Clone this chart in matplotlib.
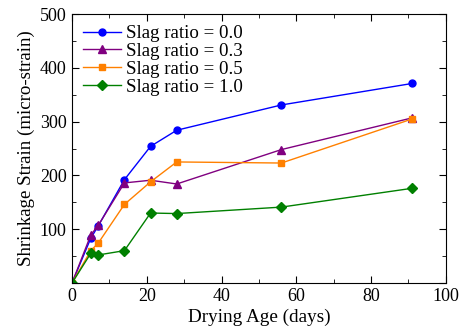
import matplotlib
matplotlib.use("Agg")
import matplotlib.pyplot as plt
from matplotlib.ticker import MultipleLocator

days = [0, 5, 7, 14, 21, 28, 56, 91]
slag_00 = [0, 83, 106, 192, 254, 284, 331, 371]
slag_03 = [0, 89, 107, 186, 191, 184, 248, 307]
slag_05 = [0, 60, 74, 146, 188, 225, 223, 305]
slag_10 = [0, 55, 52, 60, 130, 129, 141, 176]
labels = ["Slag ratio = 0.0", "Slag ratio = 0.3", "Slag ratio = 0.5", "Slag ratio = 1.0"]

plt.rcParams['font.family'] = ['Liberation Serif', 'DejaVu Serif']
plt.rcParams['mathtext.fontset'] = 'stix'

fig = plt.figure(figsize=(4.62, 3.36), dpi=100)
ax = fig.add_axes([0.156, 0.158, 0.809, 0.800])

ax.plot(days, slag_00, color='#0000ff', marker='o', ms=5, lw=1.0, label=labels[0])
ax.plot(days, slag_03, color='#800080', marker='^', ms=5.5, lw=1.0, label=labels[1])
ax.plot(days, slag_05, color='#ff8000', marker='s', ms=5, lw=1.0, label=labels[2])
ax.plot(days, slag_10, color='#008000', marker='D', ms=5, lw=1.0, label=labels[3])

ax.set_xlim(0, 100)
ax.set_ylim(0, 500)
ax.xaxis.set_major_locator(MultipleLocator(20))
ax.xaxis.set_minor_locator(MultipleLocator(10))
ax.yaxis.set_major_locator(MultipleLocator(100))
ax.yaxis.set_minor_locator(MultipleLocator(50))
ax.tick_params(which='both', direction='in', top=True, right=True, labelsize=13)
ax.tick_params(which='major', length=5, pad=4)
ax.tick_params(which='minor', length=3)
ax.set_yticks([0, 100, 200, 300, 400, 500])
ax.set_yticklabels(['', '100', '200', '300', '400', '500'])

ax.set_xlabel('Drying Age (days)', fontsize=13.8, labelpad=2)
ax.set_ylabel('Shrinkage Strain (micro-strain)', fontsize=13.6, labelpad=3)

ax.legend(loc='upper left', frameon=False, fontsize=13.6, handlelength=2.0,
          labelspacing=0.03, borderaxespad=0.2, handletextpad=0.25, borderpad=0.38)

fig.savefig('out.png', dpi=100)
